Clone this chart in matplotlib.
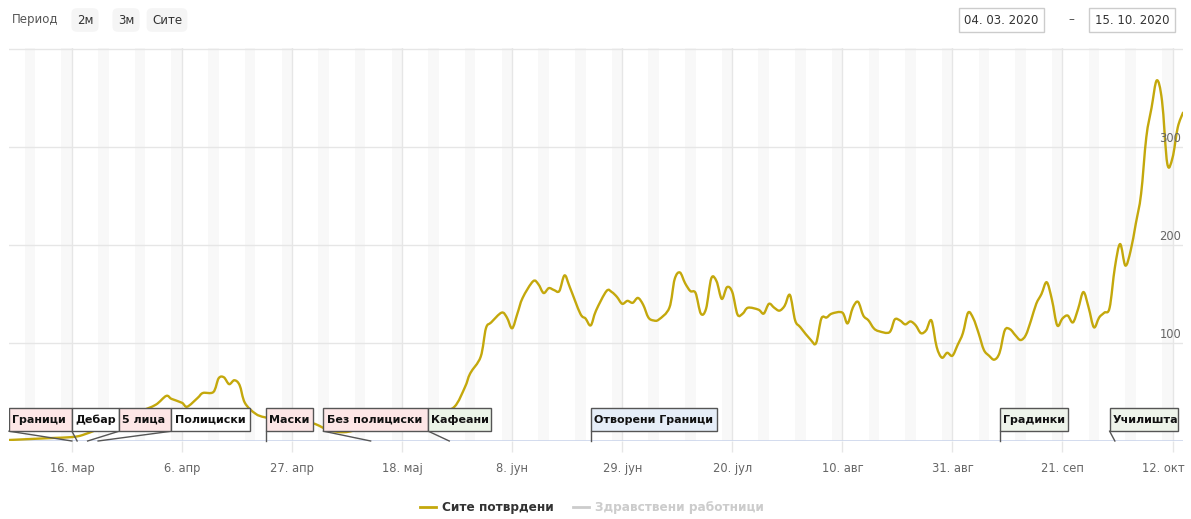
import datetime as dt
import matplotlib
matplotlib.use('Agg')
import matplotlib.pyplot as plt
import matplotlib.dates as mdates
from matplotlib.lines import Line2D
from matplotlib.patches import Rectangle, PathPatch
from matplotlib.path import Path
from matplotlib.transforms import blended_transform_factory, ScaledTranslation

START = dt.date(2020, 3, 4)

# дневни потврдени случаи (ден од 04.03.2020, вредност) - прочитано од графиконот
case_days = [0, 4, 8, 12, 14, 17, 21, 25, 28, 30, 31, 33, 34, 36, 37, 39, 40, 41, 42, 43,
             44, 45, 47, 49, 54, 58, 61, 64, 67, 71, 75, 79, 82, 85, 87, 88, 90, 91, 92, 94,
             95, 96, 97, 98, 100, 101, 102, 103, 104, 105, 106, 107, 109, 110, 111, 112, 114, 115, 116, 117,
             118, 119, 120, 121, 122, 123, 124, 126, 127, 128, 129, 130, 131, 132, 133, 134, 135, 136, 137, 138,
             139, 140, 141, 143, 144, 145, 146, 147, 148, 149, 150, 151, 153, 154, 155, 156, 157, 159, 160, 161,
             162, 163, 164, 165, 166, 168, 169, 170, 171, 172, 173, 174, 175, 176, 177, 178, 179, 180, 181, 182,
             183, 184, 185, 186, 187, 188, 189, 190, 191, 192, 193, 194, 195, 196, 197, 198, 199, 200, 201, 202,
             203, 204, 205, 206, 207, 208, 209, 210, 211, 212, 213, 214, 215, 216, 217, 218, 219, 220, 221, 222,
             223, 224]
case_values = [1, 2, 3, 4, 6, 12, 20, 30, 37, 46, 43, 39, 35, 44, 49, 50, 64, 65, 58, 62,
               57, 39, 28, 24, 20, 18, 11, 9, 12, 15, 14, 20, 28, 35, 55, 69, 86, 115, 121, 131,
               126, 115, 130, 146, 163, 160, 151, 156, 154, 153, 169, 157, 130, 125, 118, 133, 153, 152, 147, 140,
               143, 141, 146, 139, 126, 123, 124, 136, 165, 172, 161, 153, 151, 130, 135, 166, 163, 145, 157, 152,
               129, 130, 136, 134, 130, 140, 136, 133, 138, 149, 123, 116, 103, 100, 125, 126, 130, 131, 120, 136,
               142, 128, 123, 115, 112, 111, 124, 123, 119, 122, 118, 110, 113, 123, 96, 85, 90, 87, 98, 110,
               131, 125, 110, 93, 87, 83, 90, 113, 114, 108, 103, 108, 123, 140, 150, 162, 144, 118, 125, 128,
               121, 135, 152, 136, 116, 126, 131, 136, 177, 201, 179, 194, 222, 252, 310, 340, 368, 347, 283, 289,
               320, 335]

# настани (знаменца)
flag_labels = ['Граници', 'Дебар', '5 лица', 'Полициски', 'Маски', 'Без полициски',
               'Кафеани', 'Отворени Граници', 'Градинки', 'Училишта']
flag_days = [12, 13, 15, 17, 49, 69, 84, 111, 189, 211]
flag_colors = ['#fde6e6', '#ffffff', '#fde6e6', '#ffffff', '#fde6e6', '#fde6e6',
               '#ecf5e8', '#e6eef8', '#eef4ea', '#eef4ea']
# распоред на кутиите (лев / десен раб, во денови)
flag_box_left = [0.2, 12.2, 21.2, 31.1, 49.0, 60.7, 80.3, 111.1, 189.1, 210.3]
flag_box_right = [12.2, 21.2, 31.1, 46.0, 58.0, 80.3, 92.7, 135.7, 202.1, 223.0]

tick_days = [12, 33, 54, 75, 96, 117, 138, 159, 180, 201, 222]
tick_labels = ['16. мар', '6. апр', '27. апр', '18. мај', '8. јун', '29. јун',
               '20. јул', '10. авг', '31. авг', '21. сеп', '12. окт']
y_grid = [100, 200, 300, 400]
y_labels = ['100', '200', '300']

LINE = '#c4a80c'
W, H = 1191, 519


def day(d):
    return START + dt.timedelta(days=d)


def spline_path(xs, ys):
    # мазна линија (како spline) низ точките
    verts = [(xs[0], ys[0])]
    codes = [Path.MOVETO]
    n = len(xs)
    for i in range(n - 1):
        x0, y0 = xs[max(i - 1, 0)], ys[max(i - 1, 0)]
        x1, y1 = xs[i], ys[i]
        x2, y2 = xs[i + 1], ys[i + 1]
        x3, y3 = xs[min(i + 2, n - 1)], ys[min(i + 2, n - 1)]
        c1 = (x1 + (x2 - x0) / 6, y1 + (y2 - y0) / 6)
        c2 = (x2 - (x3 - x1) / 6, y2 - (y3 - y1) / 6)
        verts += [c1, c2, (x2, y2)]
        codes += [Path.CURVE4] * 3
    return Path(verts, codes)


plt.rcParams['font.family'] = ['DejaVu Sans']
fig = plt.figure(figsize=(W / 100, H / 100), dpi=100)
ax = fig.add_axes([9 / W, 78 / H, (1183 - 9) / W, (441 - 48) / H])

# викенд ленти
d = 0
while d < 225:
    if day(d).weekday() == 5:
        ax.axvspan(day(d), day(d + 2), color='#f8f8f8', lw=0, zorder=0)
    d += 1

for v in y_grid:
    ax.axhline(v, color='#e6e6e6', lw=1, zorder=1)
for td in tick_days:
    ax.axvline(day(td), color='#e6e6e6', lw=1, zorder=1)
ax.axhline(0, color='#ccd6eb', lw=1.2, zorder=2)

xs = [mdates.date2num(day(x)) for x in case_days]
ax.add_patch(PathPatch(spline_path(xs, case_values), fill=False, edgecolor=LINE,
                       lw=1.7, zorder=3, joinstyle='round', capstyle='round'))

ax.set_xlim(day(0), day(224))
ax.set_ylim(0, 401)
for s in ax.spines.values():
    s.set_visible(False)
ax.set_yticks([])
ax.set_xticks([day(t) for t in tick_days])
ax.set_xticklabels(tick_labels, color='#666666', fontsize=8.3)
ax.tick_params(axis='x', length=8, color='#e6e6e6', width=1, pad=7)
last = ax.get_xticklabels()[-1]
last.set_transform(last.get_transform() + ScaledTranslation(-9 / 100, 0, fig.dpi_scale_trans))

trans = blended_transform_factory(ax.transAxes, ax.transData)
for v, lab in zip(y_grid, y_labels):
    ax.text(0.9985, v + 2.5, lab, transform=trans, ha='right', va='bottom',
            color='#666666', fontsize=8.3, zorder=4)

# знаменца
box_lo, box_hi = 10, 33.5
for lab, ev, col, bl, br in zip(flag_labels, flag_days, flag_colors, flag_box_left, flag_box_right):
    x0 = mdates.date2num(day(bl))
    x1 = mdates.date2num(day(br))
    ax.plot([day(bl), day(ev)], [box_lo, 0], color='#555555', lw=1, zorder=5,
            clip_on=False)
    ax.add_patch(Rectangle((x0, box_lo), x1 - x0, box_hi - box_lo, facecolor=col,
                           edgecolor='#555555', lw=1, zorder=6))
    ax.text(x0 + 0.6, (box_lo + box_hi) / 2, lab, ha='left', va='center',
            fontsize=8.0, fontweight='bold', color='#111111', zorder=7)

# заглавие / контроли
fig.text(12 / W, 1 - 20 / H, 'Период', fontsize=8.5, color='#555555', va='center')
for lab, xc in [('2м', 85), ('3м', 126), ('Сите', 167)]:
    fig.text(xc / W, 1 - 20 / H, lab, fontsize=8.5, color='#333333', ha='center', va='center',
             bbox=dict(boxstyle='round,pad=0.45', fc='#f5f5f5', ec='none'))
fig.text(1001 / W, 1 - 20 / H, '04. 03. 2020', fontsize=8.5, color='#333333', ha='center',
         va='center', bbox=dict(boxstyle='square,pad=0.45', fc='white', ec='#cccccc'))
fig.text(1071 / W, 1 - 20 / H, '–', fontsize=8.5, color='#555555', ha='center', va='center')
fig.text(1132 / W, 1 - 20 / H, '15. 10. 2020', fontsize=8.5, color='#333333', ha='center',
         va='center', bbox=dict(boxstyle='square,pad=0.45', fc='white', ec='#cccccc'))

# легенда
handles = [Line2D([], [], color=LINE, lw=2), Line2D([], [], color='#cccccc', lw=2)]
leg = fig.legend(handles, ['Сите потврдени', 'Здравствени работници'], loc='center',
                 bbox_to_anchor=(592 / W, 1 - 508 / H), ncol=2, frameon=False,
                 handlelength=1.3, handletextpad=0.5, columnspacing=1.6,
                 prop={'weight': 'bold', 'size': 8.7})
leg.get_texts()[0].set_color('#333333')
leg.get_texts()[1].set_color('#cccccc')

fig.savefig('out.png', dpi=100)
